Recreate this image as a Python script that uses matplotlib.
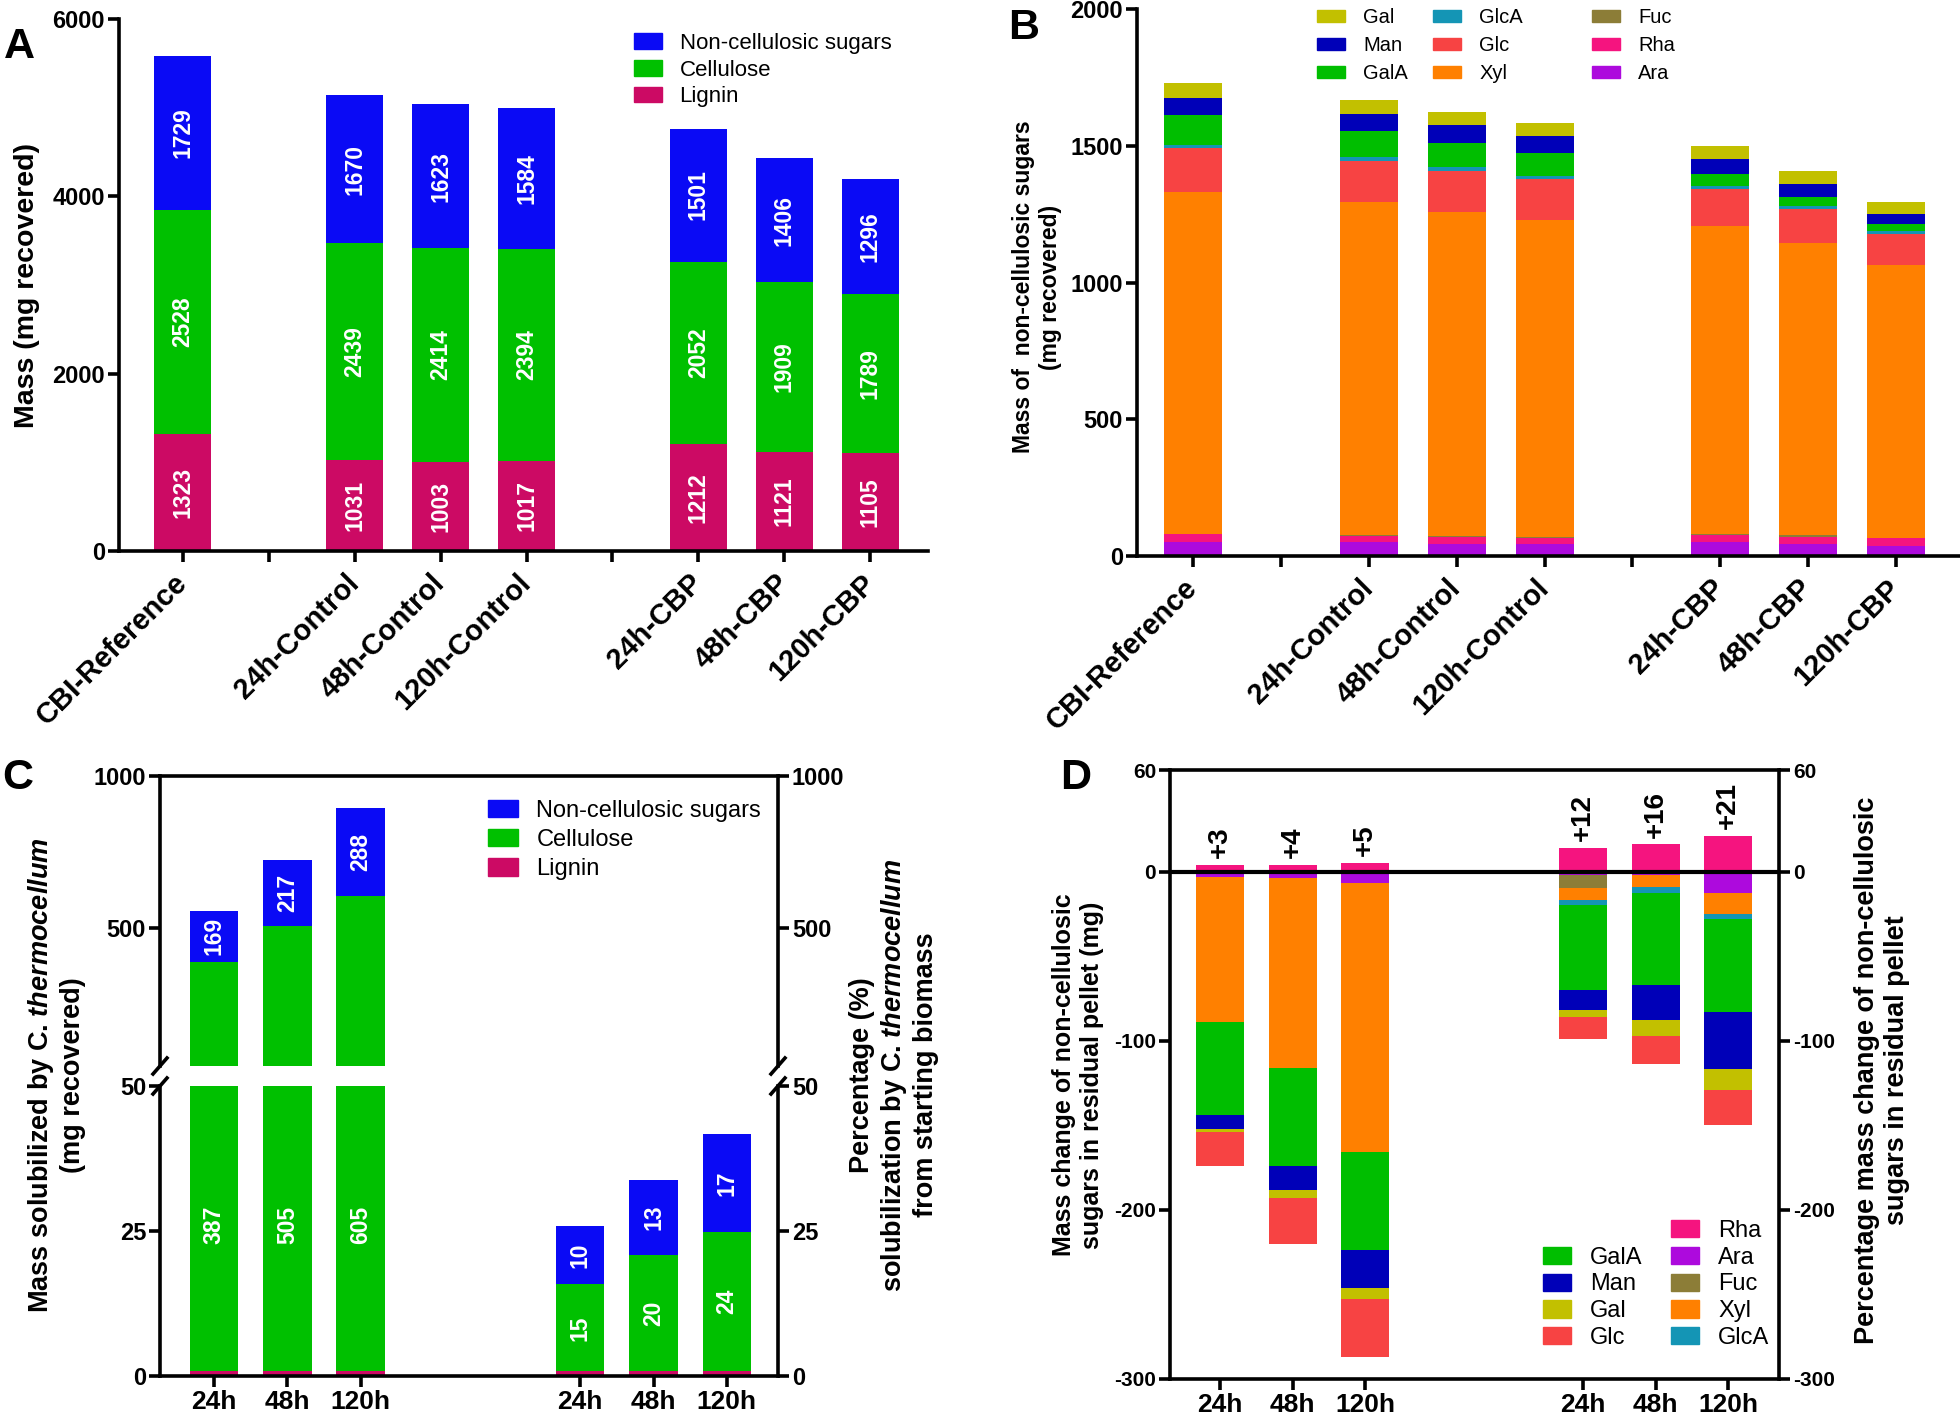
import matplotlib
matplotlib.use('Agg')
import matplotlib.pyplot as plt
from matplotlib.patches import Patch
from matplotlib.lines import Line2D
from matplotlib import font_manager as fm
import numpy as np

plt.rcParams['font.family'] = ['Liberation Sans', 'DejaVu Sans']
plt.rcParams['mathtext.fontset'] = 'custom'
plt.rcParams['mathtext.it'] = 'Liberation Sans:italic:bold'
plt.rcParams['mathtext.rm'] = 'Liberation Sans:bold'

_names = {f.name for f in fm.fontManager.ttflist}
NARROW = ['Liberation Sans Narrow', 'Liberation Sans'] if 'Liberation Sans Narrow' in _names else ['Liberation Sans']

# ---------------- data ----------------
# Panel A
groups = ['CBI-Reference', '', '24h-Control', '48h-Control', '120h-Control', '', '24h-CBP', '48h-CBP', '120h-CBP']
lignin_A = [1323, 1031, 1003, 1017, 1212, 1121, 1105]
cellulose_A = [2528, 2439, 2414, 2394, 2052, 1909, 1789]
ncs_A = [1729, 1670, 1623, 1584, 1501, 1406, 1296]

# Panel B (stack order bottom -> top)
B_Ara = [50, 50, 45, 44, 50, 44, 37]
B_Rha = [29, 24, 24, 23, 26, 26, 27]
B_Fuc = [3, 3, 5, 3, 3, 5, 3]
B_Xyl = [1250, 1217, 1184, 1160, 1129, 1069, 997]
B_Glc = [158, 152, 151, 149, 134, 123, 114]
B_GlcA = [13, 12, 12, 10, 10, 13, 10]
B_GalA = [108, 96, 89, 86, 44, 32, 25]
B_Man = [65, 63, 65, 59, 55, 47, 39]
B_Gal = [52, 51, 49, 48, 49, 47, 43]

# Panel C
times = ['24h', '48h', '120h', '', '', '24h', '48h', '120h']
C_lig_mg = [0.8, 0.8, 0.8]
C_cel_mg = [387, 505, 605]
C_ncs_mg = [169, 217, 288]
C_lig_pct = [0.8, 0.8, 0.8]
C_cel_pct = [15, 20, 24]
C_ncs_pct = [10, 13, 17]

# Panel D
D_Rha = [4, 4, 5, 14, 16, 21]
D_Ara = [-3, -4, -7, -2, -2, -13]
D_Fuc = [0, 0, 0, -8, 0, 0]
D_Xyl = [-86, -112, -159, -7, -7, -12]
D_GlcA = [0, 0, 0, -3, -4, -3]
D_GalA = [-55, -58, -58, -50, -54, -55]
D_Man = [-8, -14, -22, -12, -21, -34]
D_Gal = [-2, -5, -7, -4, -9, -12]
D_Glc = [-20, -27, -34, -13, -17, -21]
D_labels = ['+3', '+4', '+5', '+12', '+16', '+21']

# ---------------- colours ----------------
c_lig = '#CC0A64'
c_cel = '#00C000'
c_ncs = '#0A0AF5'
col = {'Gal': '#C2C000', 'Man': '#0000B8', 'GalA': '#00BE00', 'GlcA': '#1495B5',
       'Glc': '#F74343', 'Xyl': '#FF8000', 'Fuc': '#8C7D37', 'Rha': '#F5147F', 'Ara': '#AD0ADD'}

W, H = 1960, 1418
def rect(l, t, r, b):
    return [l / W, 1 - b / H, (r - l) / W, (b - t) / H]
def fx(x):
    return x / W
def fy(y):
    return 1 - y / H

fig = plt.figure(figsize=(W / 100, H / 100), dpi=100)
SP = 2.6
BW = 0.66
LAB = 16.5

def style(ax, yt, ylabsize=17):
    for s in ax.spines.values():
        s.set_linewidth(SP)
    ax.tick_params(direction='out', length=8, width=SP, pad=2)
    ax.set_yticks(yt)
    ax.set_yticklabels([str(v) for v in yt], fontweight='bold', family=NARROW, fontsize=ylabsize)

def seg_labels(ax, xs, bottoms, vals, size=LAB):
    for x, b, v in zip(xs, bottoms, vals):
        ax.text(x, b + v / 2, str(v), rotation=90, ha='center', va='center',
                color='white', fontweight='bold', fontsize=size)

# ---------------- Panel A ----------------
axA = fig.add_axes(rect(119, 19, 928, 551))
posA = [i for i, g in enumerate(groups) if g]
axA.bar(posA, lignin_A, BW, color=c_lig, label='Lignin')
axA.bar(posA, cellulose_A, BW, bottom=lignin_A, color=c_cel, label='Cellulose')
botA = np.add(lignin_A, cellulose_A)
axA.bar(posA, ncs_A, BW, bottom=botA, color=c_ncs, label='Non-cellulosic sugars')
seg_labels(axA, posA, [0] * 7, lignin_A)
seg_labels(axA, posA, lignin_A, cellulose_A)
seg_labels(axA, posA, botA, ncs_A)
axA.set_xlim(-0.74, 8.67)
axA.set_ylim(0, 6000)
style(axA, [0, 2000, 4000, 6000])
axA.spines['top'].set_visible(False)
axA.spines['right'].set_visible(False)
axA.set_xticks(range(len(groups)))
axA.set_xticklabels(groups, rotation=45, ha='right', va='center', rotation_mode='anchor',
                    fontsize=21, fontweight='bold')
axA.tick_params(axis='x', pad=12)
hA = [Patch(color=c_ncs), Patch(color=c_cel), Patch(color=c_lig)]
fig.legend(hA, ['Non-cellulosic sugars', 'Cellulose', 'Lignin'], loc='upper left',
           bbox_to_anchor=(fx(634), fy(33)), frameon=False, borderpad=0, borderaxespad=0,
           handlelength=1.25, handleheight=0.7, handletextpad=0.8, labelspacing=0.25,
           prop={'family': NARROW, 'size': 16})

# ---------------- Panel B ----------------
axB = fig.add_axes(rect(1137, 9, 1960, 556))
stackB = [('Ara', B_Ara), ('Rha', B_Rha), ('Fuc', B_Fuc), ('Xyl', B_Xyl), ('Glc', B_Glc),
          ('GlcA', B_GlcA), ('GalA', B_GalA), ('Man', B_Man), ('Gal', B_Gal)]
botB = np.zeros(len(posA))
for name, vals in stackB:
    axB.bar(posA, vals, BW, bottom=botB, color=col[name], edgecolor='none')
    botB = botB + np.array(vals)
axB.set_xlim(-0.64, 8.73)
axB.set_ylim(0, 2000)
style(axB, [0, 500, 1000, 1500, 2000])
axB.spines['top'].set_visible(False)
axB.spines['right'].set_visible(False)
axB.set_xticks(range(len(groups)))
axB.set_xticklabels(groups, rotation=45, ha='right', va='center', rotation_mode='anchor',
                    fontsize=21, fontweight='bold')
axB.tick_params(axis='x', pad=12)
legcolsB = [(['Gal', 'Man', 'GalA'], 1317), (['GlcA', 'Glc', 'Xyl'], 1433), (['Fuc', 'Rha', 'Ara'], 1592)]
for names_, xl in legcolsB:
    fig.legend([Patch(color=col[n]) for n in names_], names_, loc='upper left',
               bbox_to_anchor=(fx(xl), fy(8)), frameon=False, borderpad=0, borderaxespad=0,
               handlelength=1.4, handleheight=0.55, handletextpad=0.9, labelspacing=0.45,
               prop={'family': NARROW, 'size': 14.5})

# ---------------- Panel C ----------------
posC = [i for i, t in enumerate(times) if t]
axCu = fig.add_axes(rect(160, 776, 778, 1066))
axCl = fig.add_axes(rect(160, 1086, 778, 1376))
lig = C_lig_mg + C_lig_pct
cel = C_cel_mg + C_cel_pct
ncs = C_ncs_mg + C_ncs_pct
botC = np.add(lig, cel)
for ax in (axCu, axCl):
    ax.bar(posC, lig, BW, color=c_lig)
    ax.bar(posC, cel, BW, bottom=lig, color=c_cel)
    ax.bar(posC, ncs, BW, bottom=botC, color=c_ncs)
    ax.set_xlim(-0.74, 7.70)
axCu.set_ylim(45, 1000)
axCl.set_ylim(0, 50)
style(axCu, [500, 1000])
style(axCl, [0, 25, 50])
for ax in (axCu, axCl):
    ax.tick_params(right=True, labelright=True)
axCu.spines['bottom'].set_visible(False)
axCl.spines['top'].set_visible(False)
axCu.set_xticks([])
axCl.set_xticks(posC)
axCl.set_xticklabels([t for t in times if t], fontsize=19, fontweight='bold', family=NARROW)
seg_labels(axCu, posC[:3], botC[:3], C_ncs_mg)
for x, l in zip(posC[:3], C_cel_mg):
    axCl.text(x, 26, str(l), rotation=90, ha='center', va='center', color='white',
              fontweight='bold', fontsize=LAB)
seg_labels(axCl, posC[3:], C_lig_pct, C_cel_pct)
seg_labels(axCl, posC[3:], botC[3:], C_ncs_pct)
for xb in (160, 778):
    for yb in (1066, 1086):
        fig.add_artist(Line2D([fx(xb - 7), fx(xb + 7)], [fy(yb + 8), fy(yb - 8)],
                              color='black', lw=SP))
fig.legend(hA, ['Non-cellulosic sugars', 'Cellulose', 'Lignin'], loc='upper left',
           bbox_to_anchor=(fx(488), fy(800)), frameon=False, borderpad=0, borderaxespad=0,
           handlelength=1.25, handleheight=0.75, handletextpad=0.8, labelspacing=0.3,
           prop={'family': NARROW, 'size': 17})

# ---------------- Panel D ----------------
axD = fig.add_axes(rect(1170, 770, 1779, 1379))
negD = [('Ara', D_Ara), ('Fuc', D_Fuc), ('Xyl', D_Xyl), ('GlcA', D_GlcA), ('GalA', D_GalA),
        ('Man', D_Man), ('Gal', D_Gal), ('Glc', D_Glc)]
botD = np.zeros(len(posC))
for name, vals in negD:
    axD.bar(posC, vals, BW, bottom=botD, color=col[name], edgecolor='none')
    botD = botD + np.array(vals)
axD.bar(posC, D_Rha, BW, color=col['Rha'], edgecolor='none')
for x, v, t in zip(posC, D_Rha, D_labels):
    axD.text(x, v + 4, t, rotation=90, ha='center', va='bottom', fontsize=20, fontweight='bold')
axD.axhline(0, color='black', lw=3)
axD.set_xlim(-0.69, 7.70)
axD.set_ylim(-300, 60)
style(axD, [-300, -200, -100, 0, 60], ylabsize=15)
axD.tick_params(right=True, labelright=True)
axD.set_xticks(posC)
axD.set_xticklabels([t for t in times if t], fontsize=19, fontweight='bold', family=NARROW)
orderD = [None, 'GalA', 'Man', 'Gal', 'Glc', 'Rha', 'Ara', 'Fuc', 'Xyl', 'GlcA']
hD = [Patch(color='none') if n is None else Patch(color=col[n]) for n in orderD]
lD = ['' if n is None else n for n in orderD]
fig.legend(hD, lD, loc='upper left', ncol=2,
           bbox_to_anchor=(fx(1543), fy(1220)), frameon=False, borderpad=0, borderaxespad=0,
           handlelength=1.2, handleheight=0.75, handletextpad=0.8, labelspacing=0.2,
           columnspacing=1.2, prop={'family': NARROW, 'size': 17})

# ---------------- axis titles & panel letters ----------------
fig.text(fx(27), fy(285), 'Mass (mg recovered)', rotation=90, ha='center', va='center',
         fontsize=20.5, fontweight='bold')
fig.text(fx(1037), fy(287), 'Mass of  non-cellulosic sugars\n(mg recovered)', rotation=90,
         ha='center', va='center', fontsize=16.5, fontweight='bold', multialignment='center')
fig.text(fx(56), fy(1075), 'Mass solubilized by C. $\\mathit{thermocellum}$\n(mg recovered)',
         rotation=90, ha='center', va='center', fontsize=19.5, fontweight='bold', multialignment='center')
fig.text(fx(894), fy(1075), 'Percentage (%)\nsolubilization by C. $\\mathit{thermocellum}$\nfrom starting biomass',
         rotation=90, ha='center', va='center', fontsize=19.5, fontweight='bold', multialignment='center')
fig.text(fx(1078), fy(1075), 'Mass change of non-cellulosic\nsugars in residual pellet (mg)',
         rotation=90, ha='center', va='center', fontsize=18, fontweight='bold', multialignment='center')
fig.text(fx(1882), fy(1070), 'Percentage mass change of non-cellulosic\nsugars in residual pellet',
         rotation=90, ha='center', va='center', fontsize=19.5, fontweight='bold', multialignment='center')
for txt, x, y in [('A', 4, 27), ('B', 1008, 8), ('C', 2, 758), ('D', 1060, 758)]:
    fig.text(fx(x), fy(y), txt, ha='left', va='top', fontsize=31, fontweight='bold')

fig.savefig('out.png', dpi=100)
